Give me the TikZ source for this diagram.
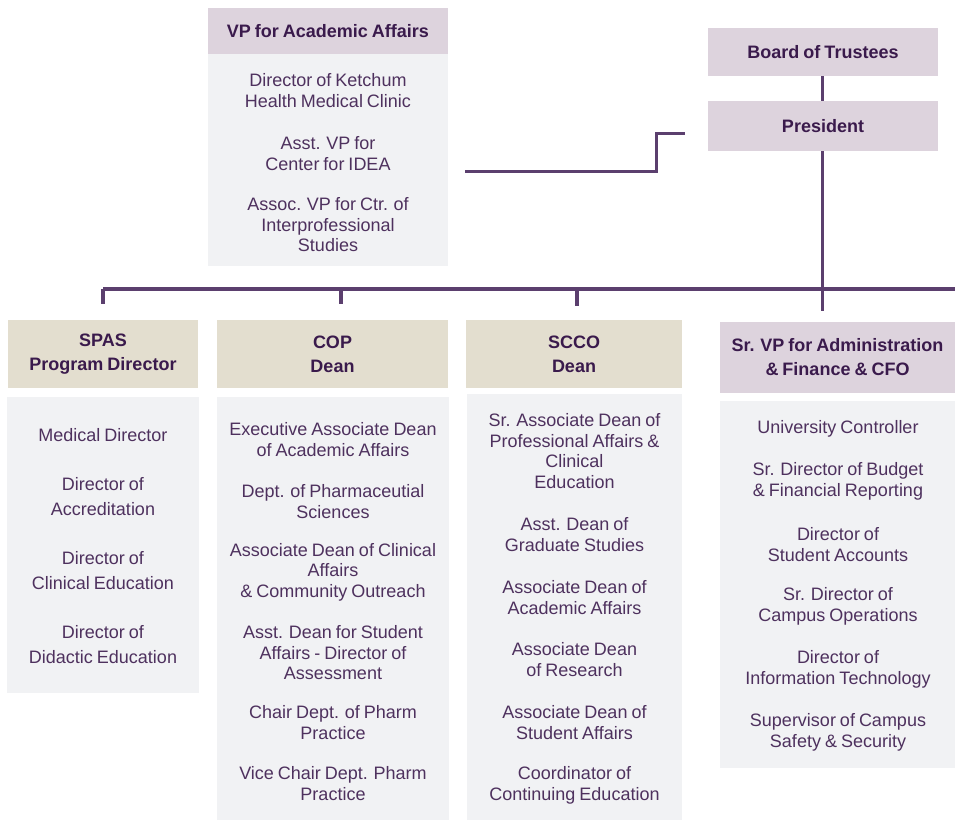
\documentclass[tikz,border=0pt]{standalone}
\usepackage{fontspec}
\setmainfont[WordSpace=0.8]{Liberation Sans}
\definecolor{mauve}{HTML}{DDD3DD}
\definecolor{sand}{HTML}{E3DECF}
\definecolor{paper}{HTML}{F1F2F4}
\definecolor{ink}{HTML}{3A1A4C}
\definecolor{wire}{HTML}{5B3F6E}
\tikzset{
  head/.style={fill=mauve, text=ink, inner sep=0pt, align=center,
    font=\fontsize{18}{24}\selectfont\bfseries},
  sandhead/.style={head, fill=sand},
  body/.style={fill=paper, inner sep=0pt},
  item/.style={text=ink!90, inner sep=0pt, align=center,
    font=\fontsize{18}{20.5}\selectfont},
  wideitem/.style={item, font=\fontsize{18}{25}\selectfont},
  link/.style={wire, line width=3.5pt},
}
\begin{document}
\begin{tikzpicture}[x=1pt, y=-1pt]
    \useasboundingbox (0,0) rectangle (955,821);

    % top of the chart
    \node[head, minimum width=240, minimum height=46] (vphead) at (328,31) {VP for Academic Affairs};
    \node[body, minimum width=240, minimum height=212] (vpbody) at (328,160) {};
    \node[head, minimum width=230, minimum height=48] (board) at (823,52) {Board of Trustees};
    \node[head, minimum width=230, minimum height=50] (pres) at (823,126) {President};

    \node[item] (vp1) at (328,90.5) {Director of Ketchum\\Health Medical Clinic};
    \node[item] (vp2) at (328,153.5) {Asst. VP for\\Center for IDEA};
    \node[item] (vp3) at (328,225) {Assoc. VP for Ctr. of\\Interprofessional\\Studies};

    % column heads
    \node[sandhead, minimum width=190, minimum height=68] (spas) at (103,354) {SPAS\\Program Director};
    \node[sandhead, minimum width=231, minimum height=68] (cop) at (332.5,354) {COP\\Dean};
    \node[sandhead, minimum width=216, minimum height=68] (scco) at (574,354) {SCCO\\Dean};
    \node[head, minimum width=235, minimum height=71] (srvp) at (837.5,357.5) {Sr. VP for Administration\\\& Finance \& CFO};

    % column bodies
    \node[body, minimum width=192, minimum height=296] (spasbody) at (103,545) {};
    \node[body, minimum width=232, minimum height=423] (copbody) at (333,608.5) {};
    \node[body, minimum width=215, minimum height=426] (sccobody) at (574.5,607) {};
    \node[body, minimum width=235, minimum height=367] (srvpbody) at (837.5,584.5) {};

    \node[wideitem] (spas1) at (103,435) {Medical Director};
    \node[wideitem] (spas2) at (103,496.5) {Director of\\Accreditation};
    \node[wideitem] (spas3) at (103,570.5) {Director of\\Clinical Education};
    \node[wideitem] (spas4) at (103,644.5) {Director of\\Didactic Education};

    \node[item] (cop1) at (333,439.5) {Executive Associate Dean\\of Academic Affairs};
    \node[item] (cop2) at (333,501.5) {Dept. of Pharmaceutial\\Sciences};
    \node[item] (cop3) at (333,572) {Associate Dean of Clinical\\Affairs\\\& Community Outreach};
    \node[item] (cop4) at (333,653) {Asst. Dean for Student\\Affairs - Director of\\Assessment};
    \node[item] (cop5) at (333,722.5) {Chair Dept. of Pharm\\Practice};
    \node[item] (cop6) at (333,783.5) {Vice Chair Dept. Pharm\\Practice};

    \node[item] (scco1) at (574.5,451) {Sr. Associate Dean of\\Professional Affairs \&\\Clinical\\Education};
    \node[item] (scco2) at (574.5,534.5) {Asst. Dean of\\Graduate Studies};
    \node[item] (scco3) at (574.5,597.5) {Associate Dean of\\Academic Affairs};
    \node[item] (scco4) at (574.5,659.5) {Associate Dean\\of Research};
    \node[item] (scco5) at (574.5,722.5) {Associate Dean of\\Student Affairs};
    \node[item] (scco6) at (574.5,785.5) {Coordinator of\\Continuing Education};

    \node[item] (srvp1) at (838,429) {University Controller};
    \node[item] (srvp2) at (838,481.5) {Sr. Director of Budget\\\& Financial Reporting};
    \node[item] (srvp3) at (838,544.5) {Director of\\Student Accounts};
    \node[item] (srvp4) at (838,606.5) {Sr. Director of\\Campus Operations};
    \node[item] (srvp5) at (838,669.5) {Director of\\Information Technology};
    \node[item] (srvp6) at (838,732.5) {Supervisor of Campus\\Safety \& Security};

    % connectors
    \coordinate (vpout) at (465,172);
    \coordinate (vpend) at (685,134);
    \coordinate (barleft) at (103,289);
    \coordinate (barright) at (955,289);
    \coordinate (presdown) at (822,311);
    \draw[link, line width=3pt] (vpout) -| (656,134) -- (vpend);
    \draw[link, line width=3pt] (board.south -| 822,0) -- (pres.north -| 822,0);
    \draw[link, line width=3pt] (pres.south -| 822,0) -- (presdown);
    \draw[link] (barleft) -- (barright);
    \draw[link] (barleft) -- (103,304);
    \draw[link] (341,289) -- (341,304);
    \draw[link] (577,289) -- (577,306);
\end{tikzpicture}
\end{document}
